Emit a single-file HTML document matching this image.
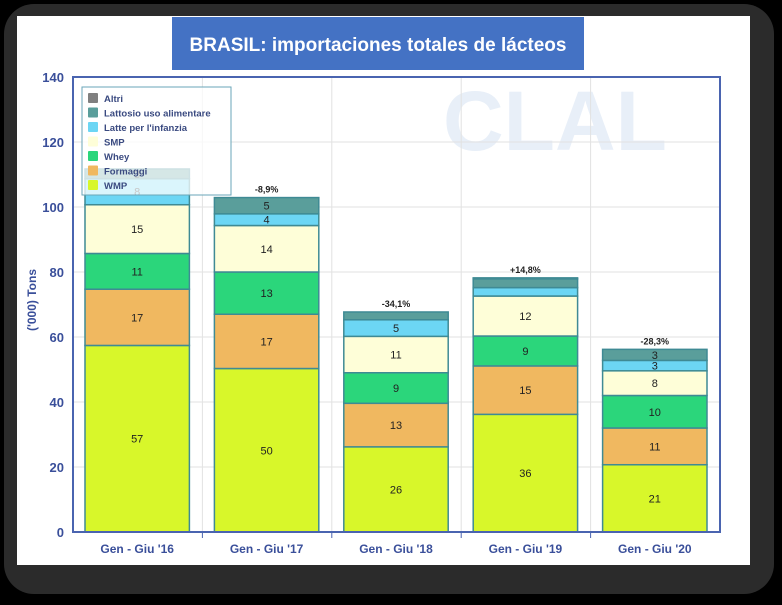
<!DOCTYPE html>
<html><head><meta charset="utf-8"><style>
body{margin:0;background:#000;width:782px;height:600px;overflow:hidden;font-family:"Liberation Sans",sans-serif}
</style></head><body>
<svg width="782" height="600" xmlns="http://www.w3.org/2000/svg">
<rect x="4" y="4" width="770" height="590" rx="30" fill="#2b2b2b"/>
<rect x="17" y="16" width="733" height="549" fill="#fff"/>
<rect x="172" y="17" width="412" height="53" fill="#4472c4"/>
<text x="378" y="51" text-anchor="middle" font-size="19" font-weight="bold" fill="#fff">BRASIL: importaciones totales de lácteos</text>
<text x="555" y="150" text-anchor="middle" font-size="84" font-weight="bold" fill="#e8eff8">CLAL</text>
<g id="grid"></g><g id="bars"></g>
<rect x="73" y="77" width="647" height="455" fill="none" stroke="#4a64b0" stroke-width="2"/>
<g id="axes"></g>
<text transform="translate(36,300) rotate(-90)" text-anchor="middle" font-size="12" font-weight="bold" fill="#3a4f9a">('000) Tons</text>
<g id="legend"></g>
</svg>
<script>
const categories=["Gen - Giu '16","Gen - Giu '17","Gen - Giu '18","Gen - Giu '19","Gen - Giu '20"];
const seriesNames=["WMP","Formaggi","Whey","SMP","Latte per l'infanzia","Lattosio uso alimentare","Altri"];
const colors=["#d8f72a","#f0b860","#2bd67b","#fefed8","#6cd6f4","#5a9e9b","#808080"];
const wmp=[57.4,50.3,26.2,36.2,20.7];
const formaggi=[17.3,16.7,13.4,14.9,11.3];
const whey=[11,13,9.4,9.2,10];
const smp=[15,14.3,11.2,12.3,7.6];
const latte=[8,3.6,5.1,2.6,3.2];
const lattosio=[3,5,2.4,2.7,3.4];
const altri=[0,0,0,0.3,0];
const changes=["","-8,9%","-34,1%","+14,8%","-28,3%"];
const yTicks=[0,20,40,60,80,100,120,140];
const series=[wmp,formaggi,whey,smp,latte,lattosio,altri];
const NS="http://www.w3.org/2000/svg";
const x0=73,x1=720,yb=532,yt=77,ymax=140;
const y=v=>yb-(v/ymax)*(yb-yt);
const bw=(x1-x0)/categories.length;
function mk(t,a,p){const e=document.createElementNS(NS,t);for(const k in a)e.setAttribute(k,a[k]);p.appendChild(e);return e;}
const G=document.getElementById('grid'),B=document.getElementById('bars'),A=document.getElementById('axes'),L=document.getElementById('legend');
yTicks.forEach(v=>{
 const l=mk('line',{x1:x0,x2:x1,y1:y(v),y2:y(v),stroke:'#e2e2e2'},G);
 
 
 const t=mk('text',{x:64,y:y(v)+5,'text-anchor':'end','font-size':13,'font-weight':'bold',fill:'#3a4f9a'},A);
 t.textContent=v;
 
 
});
for(let i=1;i<categories.length;i++){
 const l=mk('line',{x1:x0+i*bw,x2:x0+i*bw,y1:yt,y2:yb,stroke:'#e2e2e2'},G);
 
 
 const tk=mk('line',{x1:x0+i*bw,x2:x0+i*bw,y1:yb,y2:yb+6,stroke:'#4a64b0'},A);
 
 
}
categories.forEach((c,i)=>{
 const bx=x0+i*bw+12,w=bw-25;let acc=0;
 series.forEach((s,k)=>{
  const v=s[i];if(v<=0)return;
  const r=mk('rect',{x:bx,y:y(acc+v),width:w,height:y(acc)-y(acc+v),fill:colors[k],stroke:'#3f8a94','stroke-width':1.5},B);
  
  
  if(v>=3){const t=mk('text',{x:bx+w/2,y:(y(acc)+y(acc+v))/2+4,'text-anchor':'middle','font-size':11,fill:'#222'},B);
  t.textContent=Math.round(v);
  
  }
  acc+=v;
 });
 if(changes[i]){const t=mk('text',{x:bx+w/2,y:y(acc)-5,'text-anchor':'middle','font-size':9,'font-weight':'bold',fill:'#222'},B);
 t.textContent=changes[i];
 
 }
 const t=mk('text',{x:bx+w/2,y:553,'text-anchor':'middle','font-size':12,'font-weight':'bold',fill:'#3a4f9a'},A);
 t.textContent=c;
 
 
});
const lb=mk('rect',{x:82,y:87,width:149,height:108,fill:'rgba(255,255,255,0.75)',stroke:'#6aa6b8'},L);


for(let k=6;k>=0;k--){
 const row=6-k,yy=93+row*14.5;
 const r=mk('rect',{x:88,y:yy,width:10,height:10,fill:colors[k],rx:1},L);
 
 
 const t=mk('text',{x:104,y:yy+9,'font-size':9.5,'font-weight':'bold',fill:'#3a4a80'},L);
 t.textContent=seriesNames[k];
 
 
}
</script>
</body></html>
